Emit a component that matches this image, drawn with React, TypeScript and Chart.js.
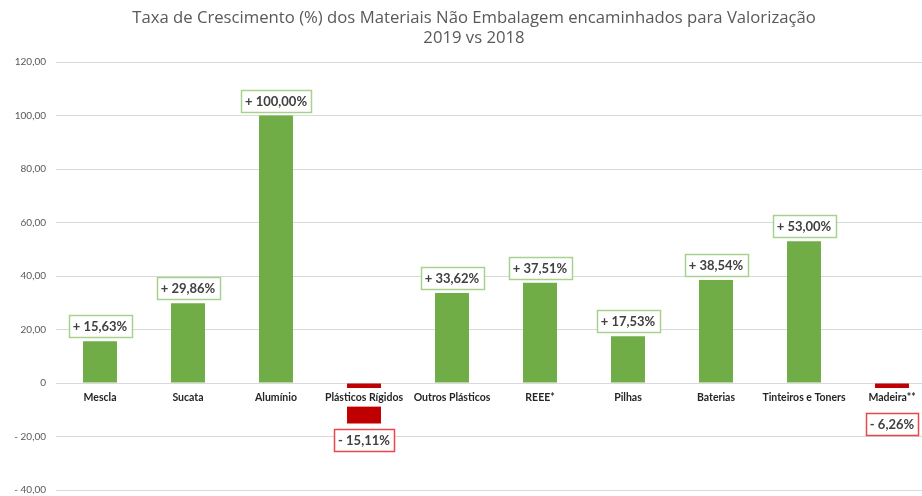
import React, { useEffect, useRef } from 'react';
import { Chart, registerables } from 'chart.js';

Chart.register(...registerables);

const titleLines = [
  'Taxa de Crescimento (%) dos Materiais Não Embalagem encaminhados para Valorização',
  '2019 vs 2018',
];

const categories = [
  'Mescla',
  'Sucata',
  'Alumínio',
  'Plásticos Rígidos',
  'Outros Plásticos',
  'REEE*',
  'Pilhas',
  'Baterias',
  'Tinteiros e Toners',
  'Madeira**',
];

const growth = [15.63, 29.86, 100.0, -15.11, 33.62, 37.51, 17.53, 38.54, 53.0, -6.26];

const yMin = -40;
const yMax = 120;
const yStep = 20;

const GREEN = '#70AD47';
const RED = '#C00000';
const GREEN_BORDER = '#A9D18E';
const RED_BORDER = '#E8474C';

function fmtPct(v: number): string {
  return (v >= 0 ? '+ ' : '- ') + Math.abs(v).toFixed(2).replace('.', ',') + '%';
}

function fmtTick(v: number): string {
  if (v === 0) return '0';
  return (v < 0 ? '- ' : '') + Math.abs(v).toFixed(2).replace('.', ',');
}

const boxLabelPlugin = {
  id: 'boxLabels',
  afterDraw(chart: any) {
    const ctx = chart.ctx;
    const meta = chart.getDatasetMeta(0);
    const zeroY = chart.scales.y.getPixelForValue(0);
    ctx.save();
    ctx.font = 'bold 13px Lato';
    ctx.textAlign = 'center';
    ctx.textBaseline = 'middle';
    meta.data.forEach((bar: any, i: number) => {
      const v = growth[i];
      const text = fmtPct(v);
      const w = Math.round(ctx.measureText(text).width + 8);
      const h = 22;
      let top: number;
      if (v >= 0) top = bar.y - 4 - h;
      else top = Math.max(bar.y + 6, zeroY + 30);
      top = Math.round(top) + 0.5;
      const left = Math.round(bar.x - w / 2) + 0.5;
      ctx.fillStyle = '#ffffff';
      ctx.fillRect(left, top, w, h);
      ctx.strokeStyle = v >= 0 ? GREEN_BORDER : RED_BORDER;
      ctx.lineWidth = 1.5;
      ctx.strokeRect(left, top, w, h);
      ctx.fillStyle = '#404040';
      ctx.fillText(text, bar.x, top + h / 2 + 0.5);
    });
    ctx.restore();
  },
};

export default function App() {
  const ref = useRef<HTMLCanvasElement | null>(null);

  useEffect(() => {
    if (!ref.current) return;
    const chart = new Chart(ref.current, {
      type: 'bar',
      data: {
        labels: categories,
        datasets: [
          {
            data: growth,
            backgroundColor: growth.map((v) => (v >= 0 ? GREEN : RED)),
            borderWidth: 0,
            barPercentage: 0.386,
            categoryPercentage: 1,
          },
        ],
      },
      options: {
        responsive: false,
        animation: false,
        devicePixelRatio: 1,
        layout: { padding: { top: 0, left: 0, right: 0, bottom: 0 } },
        plugins: {
          legend: { display: false },
          tooltip: { enabled: false },
          title: {
            display: true,
            text: titleLines,
            color: '#595959',
            font: { family: 'Open Sans', size: 16.7, weight: 'normal', lineHeight: 1.2 },
            padding: { top: 8, bottom: 14 },
          },
        },
        scales: {
          x: {
            position: { y: 0 } as any,
            grid: { display: false, drawTicks: false },
            border: { display: false },
            ticks: {
              z: 1,
              color: '#262626',
              font: { family: 'Lato', size: 10.5, weight: 'bold' },
              padding: 8,
              autoSkip: false,
              maxRotation: 0,
              showLabelBackdrop: true,
              backdropColor: '#ffffff',
              backdropPadding: 3,
            } as any,
          },
          y: {
            min: yMin,
            max: yMax,
            grid: { color: '#D9D9D9', lineWidth: 1, drawTicks: false },
            border: { display: false },
            afterFit: (s: any) => {
              s.width = 56;
            },
            ticks: {
              stepSize: yStep,
              color: '#595959',
              font: { family: 'Lato', size: 10 },
              padding: 10,
              callback: (v: any) => fmtTick(Number(v)),
            },
          },
          yRight: {
            type: 'linear',
            position: 'right',
            grid: { display: false, drawTicks: false },
            border: { display: false },
            ticks: { display: false },
            afterFit: (s: any) => {
              s.width = 12;
            },
          },
        },
      },
      plugins: [boxLabelPlugin],
    });
    return () => chart.destroy();
  }, []);

  return (
    <div
      style={{
        position: 'absolute',
        left: 0,
        top: 0,
        width: 922,
        height: 496,
        overflow: 'hidden',
        background: '#ffffff',
      }}
    >
      <canvas ref={ref} width={948} height={506} style={{ display: 'block' }} />
    </div>
  );
}
